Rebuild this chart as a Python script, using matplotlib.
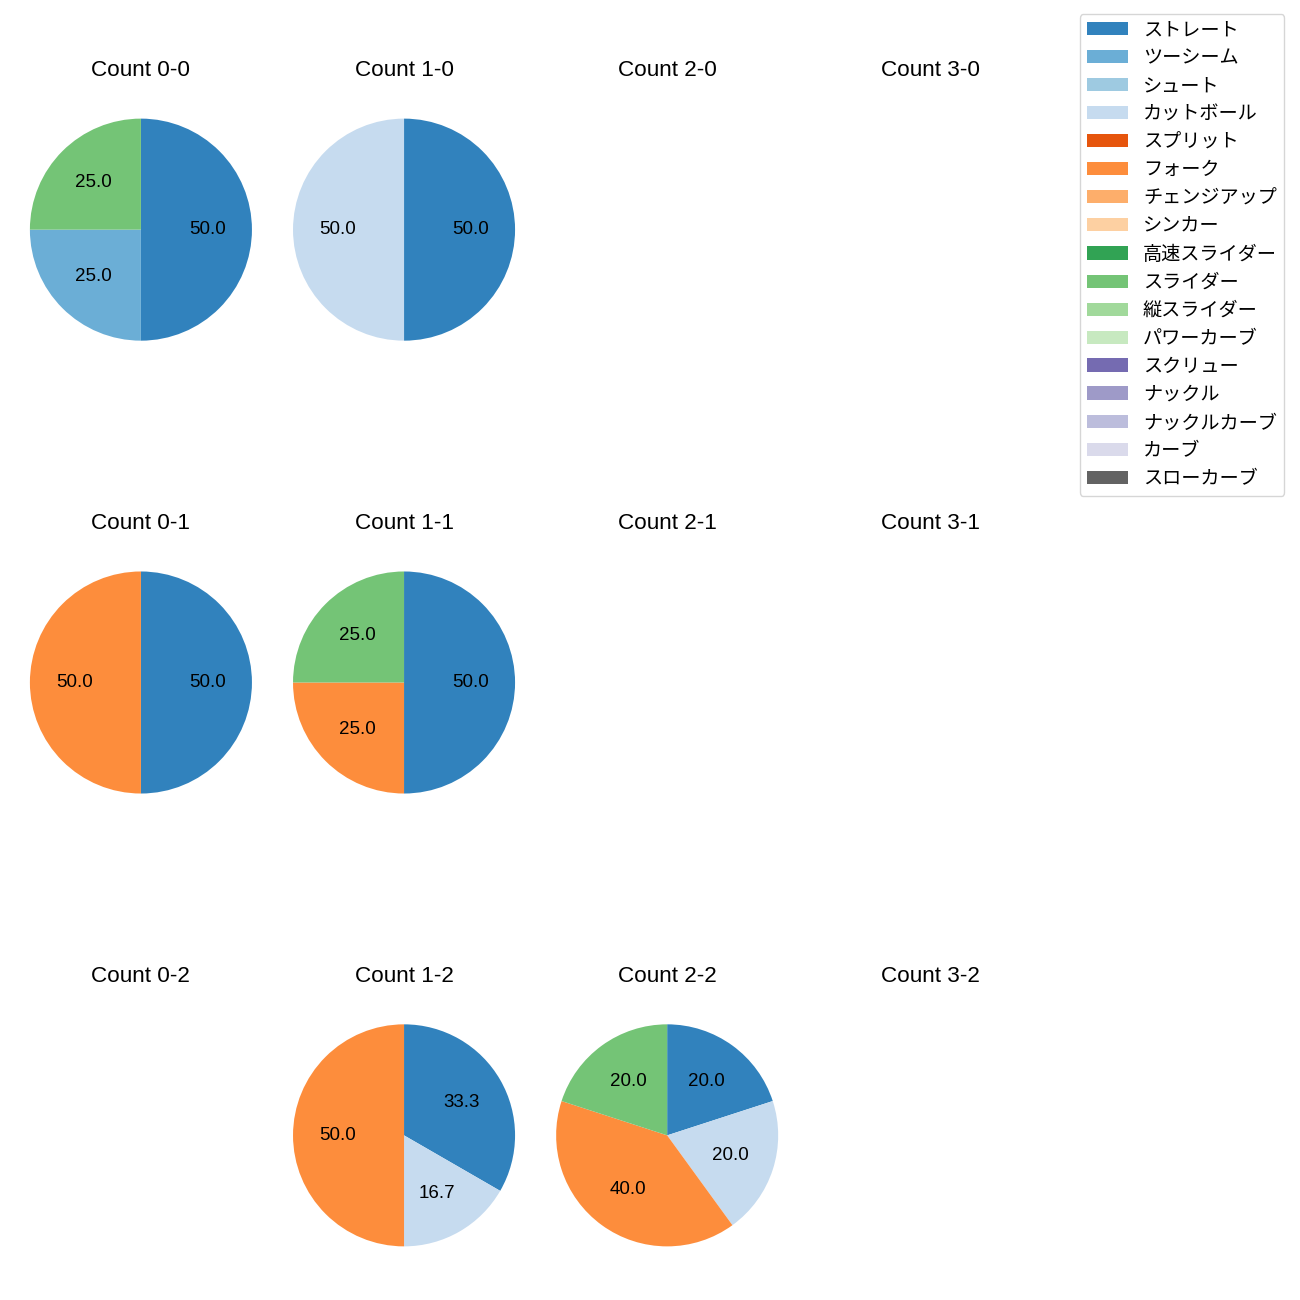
#!/usr/bin/env python3
# -*- coding=utf-8 -*-

import numpy as np
import matplotlib
matplotlib.use('Agg')
from matplotlib import pyplot as plt
from matplotlib.patches import Patch

plt.rcParams['font.family'] = ['Liberation Sans', 'Noto Sans CJK JP', 'DejaVu Sans']
plt.rcParams['font.size'] = 13.5

pitch_types = ['ストレート', 'ツーシーム', 'シュート', 'カットボール', 'スプリット',
               'フォーク', 'チェンジアップ', 'シンカー', '高速スライダー', 'スライダー',
               '縦スライダー', 'パワーカーブ', 'スクリュー', 'ナックル', 'ナックルカーブ',
               'カーブ', 'スローカーブ']

# counts per pitch type for each ball-strike count (balls, strikes)
count_0_0 = {'ストレート': 2, 'ツーシーム': 1, 'スライダー': 1}
count_1_0 = {'ストレート': 1, 'カットボール': 1}
count_0_1 = {'ストレート': 1, 'フォーク': 1}
count_1_1 = {'ストレート': 2, 'フォーク': 1, 'スライダー': 1}
count_1_2 = {'ストレート': 2, 'カットボール': 1, 'フォーク': 3}
count_2_2 = {'ストレート': 1, 'カットボール': 1, 'フォーク': 2, 'スライダー': 1}

pitch_data = {
    (0, 0): count_0_0, (1, 0): count_1_0,
    (0, 1): count_0_1, (1, 1): count_1_1,
    (1, 2): count_1_2, (2, 2): count_2_2,
}


def main():
    cmap = plt.get_cmap('tab20c')
    colors = {p: cmap(i) for i, p in enumerate(pitch_types)}

    fig, axes = plt.subplots(3, 4, figsize=(13, 13), dpi=100)
    plt.subplots_adjust(left=0.023, right=0.801, top=0.935, bottom=0.015,
                        wspace=0.185, hspace=0.56)

    for strikes in range(3):
        for balls in range(4):
            ax = axes[strikes, balls]
            ax.set_title('Count %d-%d' % (balls, strikes))
            data = pitch_data.get((balls, strikes))
            if data:
                names = [p for p in pitch_types if p in data]
                vals = [data[p] for p in names]
                ax.pie(vals, colors=[colors[p] for p in names], autopct='%.1f',
                       startangle=90, counterclock=False)
                ax.set_xlim(-1.0, 1.0)
                ax.set_ylim(-1.0, 1.0)
                ax.set_aspect('equal', adjustable='datalim')
            ax.axis('off')

    handles = [Patch(facecolor=colors[p], label=p) for p in pitch_types]
    fig.legend(handles=handles, loc='upper right', bbox_to_anchor=(0.988, 0.989),
               borderaxespad=0, fontsize=13.8, labelspacing=0.55,
               handlelength=2.1)

    plt.savefig('out.png')


if "__main__" == __name__:
    main()
